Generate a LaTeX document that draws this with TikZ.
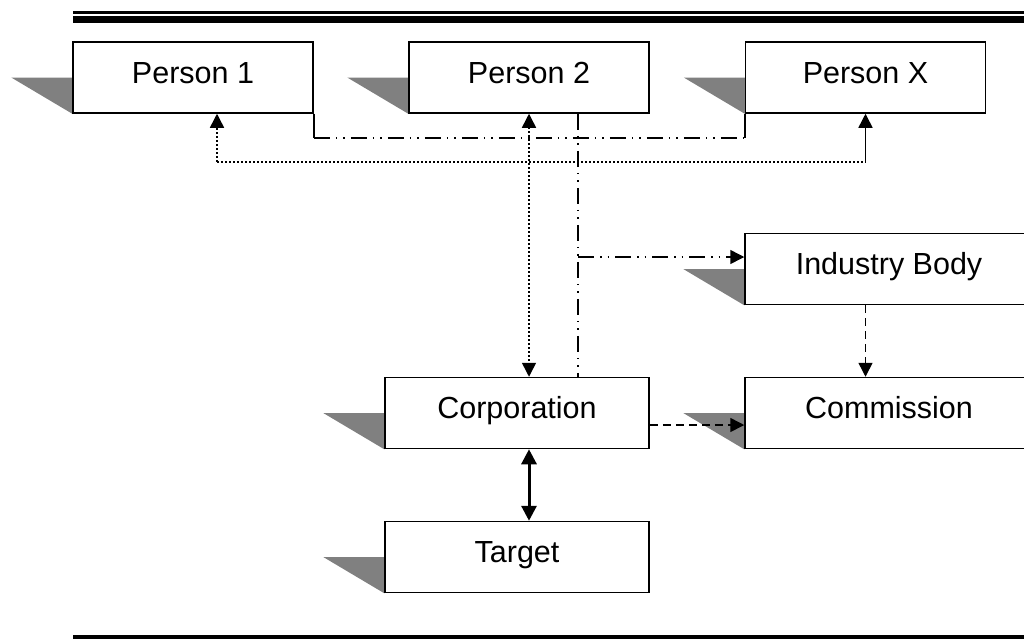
\documentclass[tikz,border=0pt]{standalone}
\usepackage{fontspec}
\setmainfont{Liberation Sans}
\usetikzlibrary{arrows.meta,backgrounds}
\begin{document}
\begin{tikzpicture}[x=1pt,y=-1pt,
  box/.style={draw=black, line width=1.5pt, fill=white, minimum width=240pt,
    inner xsep=0pt, inner ysep=0pt, text height=41pt, text depth=30pt,
    font=\fontsize{30.5}{36}\selectfont},
  shadowfill/.style={fill=black!50, draw=none},
  conn/.style={line width=1.5pt},
  arr/.style={arrows={-Triangle[length=14pt,width=14pt]}},
  biarr/.style={arrows={Triangle[length=14pt,width=14pt]-Triangle[length=14pt,width=14pt]}},
  ddot/.style={conn, dash pattern=on 16pt off 6pt on 1.5pt off 6pt on 1.5pt off 6pt},
  dotl/.style={conn, dash pattern=on 1.5pt off 2.5pt},
  dashl/.style={conn, dash pattern=on 8pt off 5pt},
  rule/.style={draw=black}
]
\useasboundingbox (0,0) rectangle (1024,638);
\clip (0,0) rectangle (1024,638);

% rules
\draw[rule, line width=3pt] (73,12.5) -- (1024,12.5);
\draw[rule, line width=7pt] (73,19.5) -- (1024,19.5);
\draw[rule, line width=4pt] (73,637) -- (1024,637);

% boxes
\node[box] (p1) at (193,77.5) {Person 1};
\node[box] (p2) at (529,77.5) {Person 2};
\node[box] (px) at (865.5,77.5) {Person X};
\node[box, minimum width=288pt] (ib) at (889,269) {Industry Body};
\node[box, minimum width=288pt] (com) at (889,413) {Commission};
\node[box, minimum width=264pt] (corp) at (517,413) {Corporation};
\node[box, minimum width=264pt] (tgt) at (517,557) {Target};

% shadows
\begin{pgfonlayer}{background}
\foreach \n in {p1,p2,px,ib,com,corp,tgt}{
  \fill[shadowfill] (\n.west) -- ++(-61,0) -- (\n.south west) -- cycle;
}
\end{pgfonlayer}

% dash-dot-dot connectors
\draw[conn] (p1.south east) -- ++(0,24) coordinate (c1);
\draw[conn] (px.south west) -- ++(0,24) coordinate (c2);
\draw[ddot] (c1) -- (c2);
\draw[ddot] (p2.south) ++(49,0) coordinate (j) -- (j |- corp.north);
\draw[ddot, arr] (ib.west) ++(0,-12) coordinate (k) (k -| j) -- (k);

% dotted connectors
\draw[dotl, arr] (p1.south) ++(24,48) coordinate (d1) -- (d1 |- p1.south);
\draw[dotl] (d1) -- (d1 -| px.south);
\draw[conn, arr] (d1 -| px.south) -- (px.south);
\draw[dotl, biarr] (p2.south) -- (p2.south |- corp.north);

% solid double arrow
\draw[line width=3pt, arrows={Triangle[length=15pt,width=15pt]-Triangle[length=15pt,width=15pt]}]
  (p2.south |- corp.south) -- (p2.south |- tgt.north);

% dashed connectors
\draw[dashl, arr] (corp.east) ++(0,12) coordinate (e) -- (e -| com.west);
\draw[dashl, arr] (px.south |- ib.south) -- (px.south |- com.north);
\end{tikzpicture}
\end{document}
